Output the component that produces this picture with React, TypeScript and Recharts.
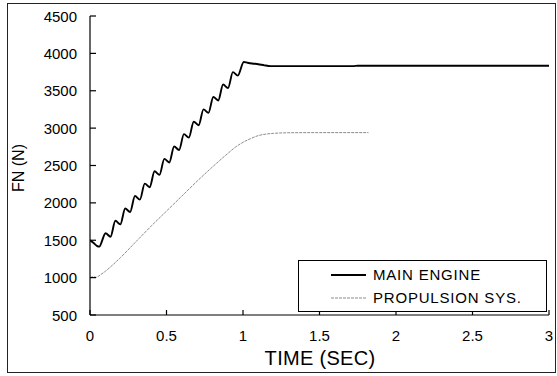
import React from 'react'
import { LineChart, Line, XAxis, YAxis, Legend } from 'recharts'

// main engine thrust (N) vs time (s)
const mainTime = [
  0, 0.02, 0.045, 0.06, 0.102, 0.134, 0.166, 0.198, 0.23, 0.262, 0.294, 0.326, 0.358, 0.39,
  0.422, 0.454, 0.486, 0.518, 0.55, 0.582, 0.614, 0.646, 0.678, 0.71, 0.742, 0.774, 0.806,
  0.838, 0.87, 0.902, 0.934, 0.966, 1.005, 1.03, 1.06, 1.1, 1.14, 1.18, 1.3, 1.5, 1.72, 1.75, 2, 2.5, 3,
]
const mainFn = [
  1500, 1470, 1425, 1415, 1594, 1547, 1760, 1712, 1925, 1878, 2091, 2044, 2257, 2210,
  2423, 2375, 2588, 2541, 2754, 2707, 2920, 2873, 3086, 3039, 3251, 3204, 3417,
  3370, 3583, 3536, 3749, 3702, 3885, 3875, 3865, 3855, 3840, 3830, 3830, 3830, 3830, 3835, 3835, 3835, 3835,
]

// propulsion system thrust
const propTime = [
  0, 0.02, 0.04, 0.07, 0.1, 0.2, 0.3, 0.4, 0.5, 0.6, 0.7, 0.8, 0.9, 0.95, 1, 1.05, 1.1,
  1.15, 1.2, 1.3, 1.5, 1.7, 1.82,
]
const propFn = [
  1000, 1012, 1005, 1040, 1085, 1270, 1480, 1690, 1890, 2090, 2290, 2480, 2660, 2745, 2810,
  2860, 2900, 2920, 2930, 2938, 2940, 2940, 2940,
]

const xTicks = [0, 0.5, 1, 1.5, 2, 2.5, 3]
const yTicks = [500, 1000, 1500, 2000, 2500, 3000, 3500, 4000, 4500]

const mainData = mainTime.map((t, i) => ({ t, fn: mainFn[i] }))
const propData = propTime.map((t, i) => ({ t, fn: propFn[i] }))

const FONT = 'Arial, "Liberation Sans", Helvetica, sans-serif'

function YTick(props: any) {
  const { x, y, payload } = props
  return (
    <g>
      <line x1={x} y1={y} x2={x + 6} y2={y} stroke="#000" strokeWidth={1.2} />
      <text x={x - 13} y={y} textAnchor="end" dominantBaseline="central" fontSize={15} fill="#000" fontFamily={FONT}>
        {payload.value}
      </text>
    </g>
  )
}

function XTick(props: any) {
  const { x, y, payload } = props
  return (
    <g>
      <line x1={x} y1={y} x2={x} y2={y - 5} stroke="#000" strokeWidth={1.2} />
      <text x={x} y={y + 20} textAnchor="middle" dominantBaseline="central" fontSize={15} fill="#000" fontFamily={FONT}>
        {payload.value}
      </text>
    </g>
  )
}

function LegendBox() {
  const row = (label: string, stroke: string, dash?: string) => (
    <div style={{ display: 'flex', alignItems: 'center', height: 23 }}>
      <svg width={74} height={4} style={{ display: 'block' }}>
        <line x1={32} y1={2} x2={67} y2={2} stroke={stroke} strokeWidth={dash ? 1 : 1.8} strokeDasharray={dash} />
      </svg>
      <span style={{ fontSize: 15, letterSpacing: 0.8, color: '#000', fontFamily: FONT }}>{label}</span>
    </div>
  )
  return (
    <div style={{ border: '1px solid #000', width: 247, height: 48, boxSizing: 'content-box', paddingTop: 2, background: '#fff' }}>
      {row('MAIN ENGINE', '#000')}
      {row('PROPULSION SYS.', '#8c8c8c', '3 1')}
    </div>
  )
}

export default function App() {
  return (
    <div style={{ position: 'absolute', left: 0, top: 0, width: 557, height: 376, background: '#fff', fontFamily: FONT }}>
      <div style={{ position: 'absolute', left: 7, top: 3, width: 547, height: 368, border: '1px solid #222' }} />
      <LineChart
        width={557}
        height={376}
        margin={{ top: 16, right: 8, bottom: 31, left: 30 }}
        style={{ position: 'absolute', left: 0, top: 0 }}
      >
        <XAxis
          type="number"
          dataKey="t"
          domain={[0, 3]}
          ticks={xTicks}
          height={30}
          tickSize={0}
          tickMargin={0}
          tickLine={false}
          tick={<XTick />}
          axisLine={{ stroke: '#000', strokeWidth: 1.2 }}
          interval={0}
          allowDataOverflow
        />
        <YAxis
          type="number"
          domain={[500, 4500]}
          ticks={yTicks}
          width={60}
          tickSize={0}
          tickMargin={0}
          tickLine={false}
          tick={<YTick />}
          axisLine={{ stroke: '#000', strokeWidth: 1.2 }}
          interval={0}
          allowDataOverflow
        />
        <Legend
          layout="horizontal"
          verticalAlign="middle"
          align="center"
          content={() => <LegendBox />}
          wrapperStyle={{ position: 'absolute', left: 298, top: 260, width: 250, height: 51 }}
        />
        <Line
          data={propData}
          dataKey="fn"
          type="monotone"
          stroke="#8c8c8c"
          strokeWidth={1}
          strokeDasharray="3 1"
          dot={false}
          isAnimationActive={false}
          name="PROPULSION SYS."
        />
        <Line
          data={mainData}
          dataKey="fn"
          type="monotone"
          stroke="#000"
          strokeWidth={1.9}
          dot={false}
          isAnimationActive={false}
          name="MAIN ENGINE"
        />
      </LineChart>
      <div
        style={{
          position: 'absolute', left: 19, top: 168, transform: 'translate(-50%, -50%) rotate(-90deg)',
          fontSize: 16, whiteSpace: 'nowrap', color: '#000',
        }}
      >
        FN (N)
      </div>
      <div
        style={{
          position: 'absolute', left: 320, top: 358, transform: 'translate(-50%, -50%)',
          fontSize: 20, letterSpacing: 0.3, whiteSpace: 'nowrap', color: '#000',
        }}
      >
        TIME (SEC)
      </div>
    </div>
  )
}
